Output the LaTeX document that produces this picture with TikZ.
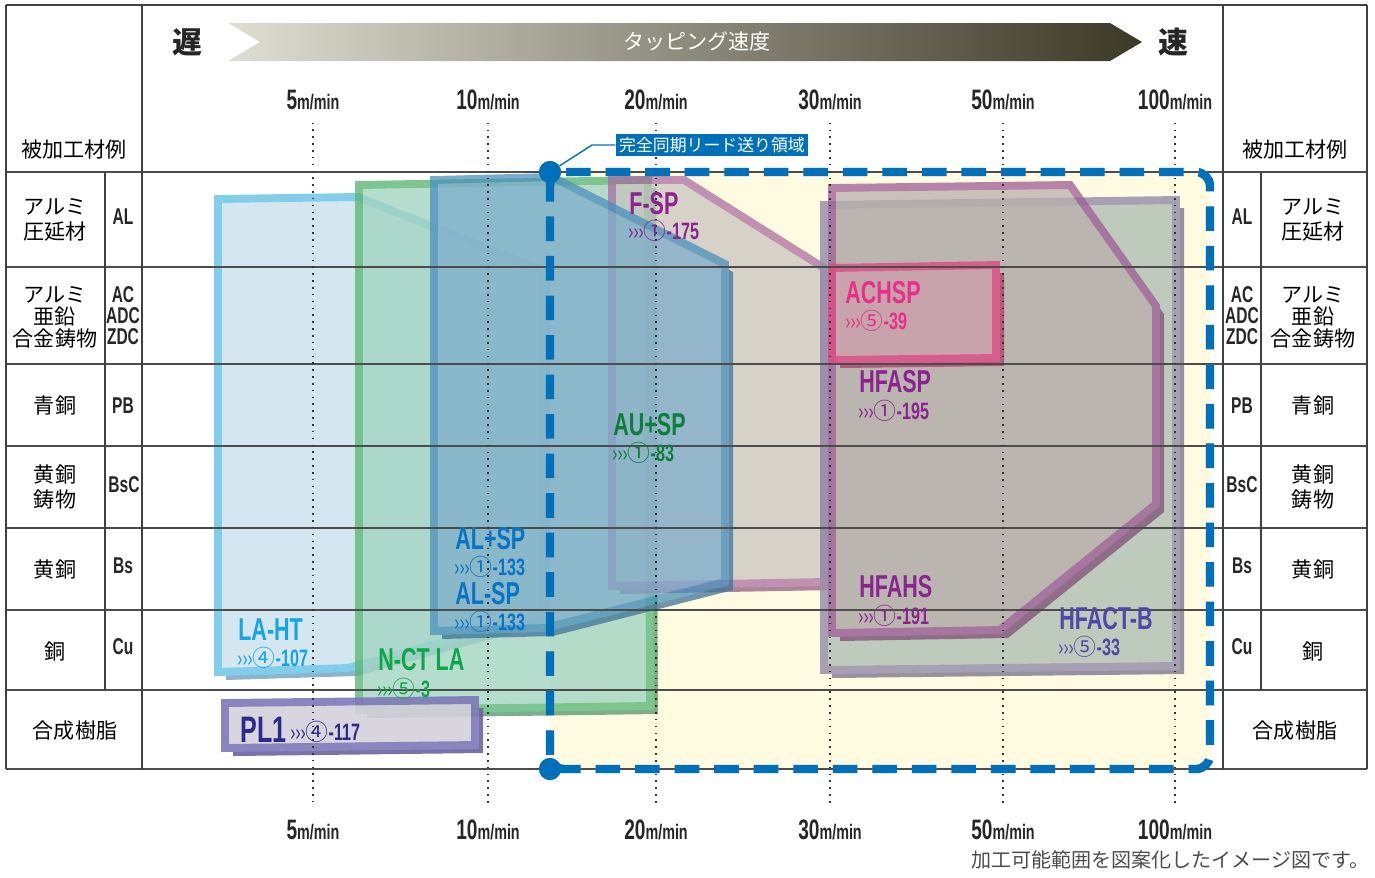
\documentclass[tikz,border=0pt]{standalone}
\usepackage{fontspec}
\setmainfont{Liberation Sans}
\newfontfamily\jp{Noto Sans CJK JP}
\newfontfamily\cond[FakeStretch=0.68]{Liberation Sans}
\usetikzlibrary{positioning}

\definecolor{zoneblue}{HTML}{0070BB}
\definecolor{zonefill}{HTML}{FFFBE0}
\definecolor{bandL}{HTML}{DEDED2}
\definecolor{bandM}{HTML}{A19D89}
\definecolor{bandR}{HTML}{3C3826}
\definecolor{lahtF}{HTML}{CDE2EC}\definecolor{lahtB}{HTML}{6CC5E6}\definecolor{lahtD}{HTML}{74A8C4}
\definecolor{nctF}{HTML}{A2D4C2}\definecolor{nctB}{HTML}{5CB878}\definecolor{nctD}{HTML}{5E9A70}
\definecolor{alspF}{HTML}{7EADCC}\definecolor{alspB}{HTML}{4A90BC}\definecolor{alspD}{HTML}{3F7496}
\definecolor{fspF}{HTML}{C6C2BE}\definecolor{fspB}{HTML}{A8659F}\definecolor{fspD}{HTML}{8A5480}
\definecolor{hfctF}{HTML}{B3C3B6}\definecolor{hfctB}{HTML}{9890AA}\definecolor{hfctD}{HTML}{858098}
\definecolor{hfaF}{HTML}{B9B0AB}\definecolor{hfaB}{HTML}{9E5A98}\definecolor{hfaD}{HTML}{7E4E74}
\definecolor{achF}{HTML}{CBA0AC}\definecolor{achB}{HTML}{DD4F85}\definecolor{achD}{HTML}{B04A70}
\definecolor{plF}{HTML}{D4D0DA}\definecolor{plB}{HTML}{7E78B8}\definecolor{plD}{HTML}{6A64A0}
\definecolor{txpurple}{HTML}{8B2490}
\definecolor{txpink}{HTML}{E8308A}
\definecolor{txgreen}{HTML}{0E7F3A}
\definecolor{txblue}{HTML}{0A74C4}
\definecolor{txindigo}{HTML}{5247A8}
\definecolor{txsky}{HTML}{14A5E4}
\definecolor{txlgreen}{HTML}{12A548}
\definecolor{txnavy}{HTML}{2B2A8A}

\newcommand\spd[1]{{\fontsize{16}{16}\selectfont #1}{\fontsize{12}{12}\selectfont m/min}}
\newcommand\refno[2]{{\fontsize{13}{13}\selectfont\mdseries›››}{\jp\mdseries\fontsize{13}{13}\selectfont #1}-#2}
% fill, border, depth, opacity, path
\newcommand\slab[5]{%
  \begin{scope}[transparency group, opacity=#4]
    \fill[#3, shift={(8,8)}] #5 -- cycle;
    \filldraw[fill=#1, draw=#2, line width=4.5pt] #5 -- cycle;
  \end{scope}}

\begin{document}
\begin{tikzpicture}[x=0.02cm, y=-0.02cm,
  jptext/.style={font=\jp\fontsize{12}{14}\selectfont, align=center, inner sep=0},
  jpmulti/.style={font=\jp\fontsize{12}{12.6}\selectfont, align=center, inner sep=0},
  code/.style={font=\cond\bfseries\fontsize{13}{12}\selectfont, align=center, inner sep=0, text=black!85},
  spdlbl/.style={font=\cond\bfseries, text=black!85, inner sep=1pt},
  tline/.style={draw=black!75, line width=0.8pt},
  dotline/.style={line width=1pt, dash pattern=on 0.9pt off 3pt, black!80},
  tag/.style={font=\cond\bfseries\fontsize{18}{18}\selectfont, anchor=west, inner sep=0},
  sub/.style={font=\cond\bfseries\fontsize{13.5}{13.5}\selectfont, anchor=west, inner sep=0},
  zoneline/.style={draw=zoneblue, line width=4.8pt, dash pattern=on 14pt off 8.5pt},
  dot/.style={circle, fill=zoneblue, inner sep=0, minimum size=0.44cm}]
\useasboundingbox (0,0) rectangle (1375,877);

% speed banner
\shade[left color=bandL, middle color=bandM, right color=bandR]
  (228,23) -- (1110,23) -- (1142,42) -- (1110,61) -- (228,61) -- (260,42) -- cycle;
\node[font=\jp\fontsize{12}{12}\selectfont, text=white] (speed) at (697,42) {タッピング速度};
\node[font=\jp\bfseries\fontsize{17}{17}\selectfont, text=black!85] (slow) at (187,42) {遅};
\node[font=\jp\bfseries\fontsize{17}{17}\selectfont, text=black!85] (fast) at (1173,42) {速};

% speed marks
\foreach \x/\v [count=\i] in {313/5,488/10,656/20,830/30,1003/50,1175/100} {
  \node[spdlbl] (t\i) at (\x,100) {\spd{\v}};
  \node[spdlbl] (b\i) at (\x,830) {\spd{\v}};
}

% synchronous feed zone
\fill[zonefill] (550,172) rectangle (1210,769);

% ranges
\slab{lahtF}{lahtB}{lahtD}{0.85}{(218,199) -- (358,197) -- (542,270) -- (542,615) -- (348,668) -- (218,672)}
\slab{nctF}{nctB}{nctD}{0.8}{(359,185) -- (648,180) -- (650,706) -- (359,710)}
\slab{fspF}{fspB}{fspD}{0.7}{(612,180) -- (684,180) -- (824,268) -- (824,582) -- (612,586)}
\slab{alspF}{alspB}{alspD}{0.75}{(434,180) -- (552,177) -- (725,264) -- (725,582) -- (545,628) -- (434,631)}
\slab{hfctF}{hfctB}{hfctD}{0.85}{(824,205) -- (1176,200) -- (1176,666) -- (824,670)}
\slab{hfaF}{hfaB}{hfaD}{0.75}{(832,188) -- (1070,185) -- (1156,306) -- (1156,504) -- (1000,630) -- (832,633)}
\slab{achF}{achB}{achD}{0.85}{(832,268) -- (996,265) -- (996,358) -- (832,360)}
\slab{plF}{plB}{plD}{0.9}{(225,703) -- (475,700) -- (475,745) -- (225,748)}

% table
\foreach \y in {172,267,364,446,528,610,690,769}
  \draw[tline, line width=0.7pt, draw=black!70] (6,\y) -- (1367,\y);
\draw[tline] (6,5) -- (1367,5);
\foreach \x in {6,142,1223,1367}
  \draw[tline] (\x,5) -- (\x,769);
\foreach \x in {105,1261}
  \draw[tline] (\x,172) -- (\x,690);
\foreach \i in {1,...,6}
  \draw[dotline, shorten <=6pt, shorten >=8pt] (t\i) -- (b\i);

\node[jptext] (hl) at (74,150) {被加工材例};
\node[jptext] (hr) at (1295,150) {被加工材例};

\node[jptext] (l1) at (55,220) {アルミ\\圧延材};
\node[jpmulti] (l2) at (55,317) {アルミ\\亜鉛\\合金鋳物};
\node[jptext] (l3) at (55,405) {青銅};
\node[jptext] (l4) at (55,487) {黄銅\\鋳物};
\node[jptext] (l5) at (55,570) {黄銅};
\node[jptext] (l6) at (55,651) {銅};
\node[jptext] (l7) at (75,731) {合成樹脂};
\node[code] (k1) at (123,217) {AL};
\node[code] (k2) at (123,316) {AC\\ADC\\ZDC};
\node[code] (k3) at (123,406) {PB};
\node[code] (k4) at (124,485) {BsC};
\node[code] (k5) at (123,566) {Bs};
\node[code] (k6) at (123,647) {Cu};

\node[code] (rk1) at (1242,217) {AL};
\node[code] (rk2) at (1242,316) {AC\\ADC\\ZDC};
\node[code] (rk3) at (1242,406) {PB};
\node[code] (rk4) at (1242,485) {BsC};
\node[code] (rk5) at (1242,566) {Bs};
\node[code] (rk6) at (1242,647) {Cu};
\node[jptext] (r1) at (1313,220) {アルミ\\圧延材};
\node[jpmulti] (r2) at (1313,317) {アルミ\\亜鉛\\合金鋳物};
\node[jptext] (r3) at (1313,405) {青銅};
\node[jptext] (r4) at (1313,487) {黄銅\\鋳物};
\node[jptext] (r5) at (1313,570) {黄銅};
\node[jptext] (r6) at (1313,651) {銅};
\node[jptext] (r7) at (1295,731) {合成樹脂};

% range labels
\node[tag, text=txpurple] (fsp) at (629,204) {F-SP};
\node[sub, text=txpurple] (fspn) at (628,231) {\refno{①}{175}};
\node[tag, text=txpink] (ach) at (845,293) {ACHSP};
\node[sub, text=txpink] (achn) at (845,321) {\refno{⑤}{39}};
\node[tag, text=txpurple] (hfasp) at (859,382) {HFASP};
\node[sub, text=txpurple] (hfaspn) at (858,411) {\refno{①}{195}};
\node[tag, text=txgreen] (ausp) at (613,425) {AU+SP};
\node[sub, text=txgreen] (auspn) at (612,453) {\refno{①}{83}};
\node[tag, text=txblue] (alp) at (455,539) {AL+SP};
\node[sub, text=txblue] (alpn) at (454,567) {\refno{①}{133}};
\node[tag, text=txblue] (alm) at (455,594) {AL-SP};
\node[sub, text=txblue] (almn) at (454,622) {\refno{①}{133}};
\node[tag, text=txpurple] (hfahs) at (859,587) {HFAHS};
\node[sub, text=txpurple] (hfahsn) at (858,616) {\refno{①}{191}};
\node[tag, text=txindigo] (hfct) at (1059,619) {HFACT-B};
\node[sub, text=txindigo] (hfctn) at (1058,647) {\refno{⑤}{33}};
\node[tag, text=txsky] (laht) at (238,630) {LA-HT};
\node[sub, text=txsky] (lahtn) at (237,658) {\refno{④}{107}};
\node[tag, text=txlgreen] (nct) at (378,660) {N-CT LA};
\node[sub, text=txlgreen] (nctn) at (377,689) {\refno{⑤}{3}};
\node[tag, text=txnavy, font=\cond\bfseries\fontsize{21}{21}\selectfont] (pl) at (240,730) {PL1};
\node[sub, text=txnavy] (pln) at (290,732) {\refno{④}{117}};

% zone border
\node[dot] (c1) at (550,172) {};
\node[dot] (c2) at (550,769) {};
\coordinate (tr) at (1210,172);
\coordinate (br) at (1210,769);
\draw[zoneline, draw=black!30, opacity=0.5, shift={(3,4)}, rounded corners=8] (c2.center) -- (c1.center) -- (tr) -- (br) -- cycle;
\draw[zoneline, rounded corners=8] (c2.center) -- (c1.center) -- (tr) -- (br) -- cycle;
\node[dot] at (c1) {};
\node[dot] at (c2) {};
\node[fill=zoneblue, text=white, font=\jp\fontsize{9.6}{10}\selectfont, inner sep=2pt] (zlbl) at (712,145) {完全同期リード送り領域};
\coordinate (kink) at (592,145);
\draw[zoneblue, line width=0.8pt] (c1) -- (kink) -- (zlbl.west);

\node[font=\jp\fontsize{11.4}{12}\selectfont, text=black!70, anchor=east, inner sep=0] (note) at (1370,860) {加工可能範囲を図案化したイメージ図です。};
\end{tikzpicture}
\end{document}
